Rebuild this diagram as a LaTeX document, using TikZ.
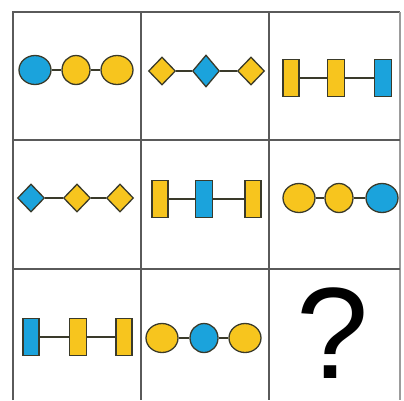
\documentclass[tikz,border=0pt]{standalone}
\usepackage{fontspec}
\setmainfont{Liberation Sans}
\usepackage{tikz}
\usetikzlibrary{shapes.geometric}
\definecolor{gblue}{HTML}{1BA3DC}
\definecolor{gyellow}{HTML}{F7C51E}
\definecolor{gedge}{HTML}{3A3A2A}
\definecolor{ggrid}{HTML}{5A5A5A}
\tikzset{%
	grid/.style   = {ggrid, line width=2pt},
	blob/.style   = {draw=gedge, line width=1.3pt, ellipse, inner sep=0pt, minimum width=32pt, minimum height=29pt},
	ball/.style   = {blob, minimum width=28pt, minimum height=29pt},
	gem/.style    = {draw=gedge, line width=1.3pt, diamond, inner sep=0pt, minimum width=27pt, minimum height=28pt},
	bar/.style    = {draw=gedge, line width=1.3pt, rectangle, inner sep=0pt, minimum width=17pt, minimum height=37pt},
	bond/.style   = {gedge, line width=1.3pt},
}

\begin{document}
\begin{tikzpicture}[x=1pt,y=-1pt]
		\useasboundingbox (0,0) rectangle (404,400);
		\fill[white] (0,0) rectangle (404,400);
		% grid
		\draw[grid] (13,400) -- (13,12) -- (400,12);
		\draw[grid, ggrid!60] (400,12) -- (400,400);
		\draw[grid] (141,12) -- (141,400);
		\draw[grid] (269,12) -- (269,400);
		\draw[grid] (13,140) -- (400,140);
		\draw[grid] (13,269) -- (400,269);
		% row 1
		\node[blob, fill=gblue] (a1) at (35,70) {};
		\node[ball, fill=gyellow] (a2) at (76,70) {};
		\node[blob, fill=gyellow] (a3) at (117,70) {};
		\draw[bond] (a1) -- (a2) (a2) -- (a3);
		\node[gem, fill=gyellow] (b1) at (162,71) {};
		\node[gem, fill=gblue, minimum height=32pt] (b2) at (206,71) {};
		\node[gem, fill=gyellow] (b3) at (251,71) {};
		\draw[bond] (b1) -- (b2) (b2) -- (b3);
		\node[bar, fill=gyellow, minimum width=16pt] (c1) at (291,78) {};
		\node[bar, fill=gyellow] (c2) at (336,78) {};
		\node[bar, fill=gblue] (c3) at (383,78) {};
		\draw[bond] (c1) -- (c2) (c2) -- (c3);
		% row 2
		\node[gem, fill=gblue] (d1) at (31,198) {};
		\node[gem, fill=gyellow] (d2) at (77,198) {};
		\node[gem, fill=gyellow] (d3) at (120,198) {};
		\draw[bond] (d1) -- (d2) (d2) -- (d3);
		\node[bar, fill=gyellow, minimum width=16pt] (e1) at (160,199) {};
		\node[bar, fill=gblue] (e2) at (204,199) {};
		\node[bar, fill=gyellow, minimum width=16pt] (e3) at (253,199) {};
		\draw[bond] (e1) -- (e2) (e2) -- (e3);
		\node[blob, fill=gyellow] (f1) at (299,198) {};
		\node[ball, fill=gyellow] (f2) at (339,198) {};
		\node[blob, fill=gblue] (f3) at (382,198) {};
		\draw[bond] (f1) -- (f2) (f2) -- (f3);
		% row 3
		\node[bar, fill=gblue, minimum width=16pt] (g1) at (31,337) {};
		\node[bar, fill=gyellow] (g2) at (78,337) {};
		\node[bar, fill=gyellow, minimum width=16pt] (g3) at (124,337) {};
		\draw[bond] (g1) -- (g2) (g2) -- (g3);
		\node[blob, fill=gyellow] (h1) at (162,338) {};
		\node[ball, fill=gblue] (h2) at (204,338) {};
		\node[blob, fill=gyellow] (h3) at (245,338) {};
		\draw[bond] (h1) -- (h2) (h2) -- (h3);
		\node[inner sep=0pt] (ask) at (333,333) {\fontsize{130}{130}\selectfont ?};
\end{tikzpicture}
\end{document}
